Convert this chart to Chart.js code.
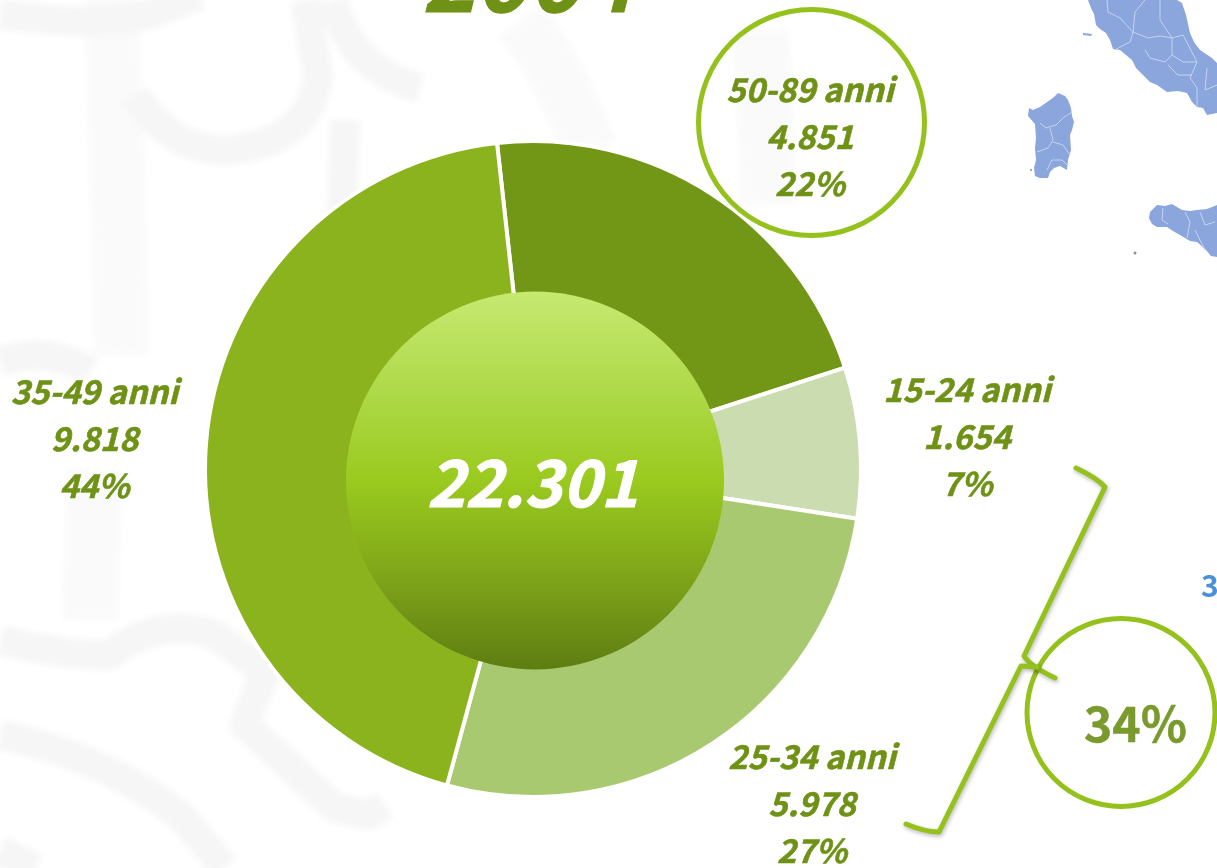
<!DOCTYPE html>
<html lang="it"><head><meta charset="utf-8">
<style>
html,body{margin:0;padding:0;width:1217px;height:868px;overflow:hidden;background:#fff}
#wrap{position:relative;width:1217px;height:868px;overflow:hidden;font-family:"Noto Sans CJK SC","Noto Sans",sans-serif}
#bg,#c{position:absolute;left:0;top:0}
.lab{position:absolute;transform:translateX(-50%);text-align:center;white-space:nowrap;color:#6f9216;font-weight:700;font-style:italic;-webkit-text-stroke:.6px #6f9216}
.lab div{height:47px;line-height:47px;font-size:32.6px}
.t{position:absolute;white-space:nowrap;line-height:1}
</style>
<script src="https://cdn.jsdelivr.net/npm/chart.js@4"></script>
</head><body><div id="wrap">
<svg id="bg" width="1217" height="868" viewBox="0 0 1217 868" fill="none">
<defs><filter id="soft" x="-5%" y="-5%" width="110%" height="110%"><feGaussianBlur stdDeviation="3"/></filter>
<filter id="mapsoft"><feGaussianBlur stdDeviation="0.5"/></filter></defs>
<g stroke-linecap="butt" stroke-linejoin="round" filter="url(#soft)">
<g stroke="#fafafb" stroke-width="55">
<path d="M112 0 L122 355"/>
<path d="M95 470 L90 620"/>
<path d="M762 30 L768 205"/>
<path d="M520 20 Q560 70 590 150"/>
</g>
<g stroke="#f6f6f7" stroke-width="30">
<path d="M0 14 Q90 28 150 14 L200 -5"/>
<path d="M135 95 Q170 150 225 150 Q310 145 318 75 L305 0"/>
<path d="M333 0 Q350 70 420 88"/>
<path d="M345 120 L342 215"/>
<path d="M0 362 Q50 345 90 372"/>
<path d="M0 640 Q60 655 110 655 Q160 615 215 635 L265 672 L245 725 L335 808 L370 815 L385 805"/>
<path d="M0 735 Q100 755 180 815 L225 868"/>
<path d="M0 850 L35 868"/>
</g>
</g>
<g filter="url(#mapsoft)">
<g fill="#8aa6dc">
<path d="M1088 0 L1091 8 L1094 14 L1096 25 L1100 29 L1106 33 L1110 40 L1113 49 L1120 50 L1132 60 L1136 68 L1143 75 L1150 82 L1157 85 L1167 92 L1178 91 L1187 93 L1192 102 L1197 107 L1203 108 L1207 115 L1217 113 L1217 63 L1212 58 L1200 50 L1194 42 L1190 33 L1186 15 L1182 3 L1177 0 Z"/>
<path d="M1058 93 L1065 96 L1068 100 L1071 108 L1072 116 L1074 122 L1072 130 L1070 135 L1071 150 L1068 160 L1067 170 L1060 166 L1054 168 L1050 172 L1048 178 L1040 178 L1035 176 L1034 168 L1036 160 L1035 148 L1036 138 L1035 124 L1028 116 L1029 108 L1033 110 L1040 107 L1050 100 L1054 97 Z"/>
<path d="M1150 212 L1157 205 L1165 206 L1172 204 L1182 210 L1190 211 L1197 210 L1207 209 L1217 205 L1217 257 L1211 256 L1206 250 L1197 242 L1190 241 L1180 235 L1173 231 L1167 227 L1157 227 L1152 224 L1149 218 Z"/>
<path d="M1083 33 L1092 34 L1091 36 L1083 35 Z"/>
</g>
<g fill="none" stroke="#c5d3ef" stroke-width="1">
<path d="M1107 0 L1108 12 L1120 18 L1133 32 L1130 42 L1122 46 L1115 50"/>
<path d="M1133 32 L1148 38 L1160 36 L1172 38 L1183 35 L1197 62"/>
<path d="M1145 0 L1135 12 L1133 32 M1160 0 L1160 20 L1172 38 M1172 38 L1172 55 L1183 62 L1197 62 L1190 78 L1197 88 L1197 107"/>
<path d="M1145 50 L1150 58 L1165 62 L1172 55 M1168 65 L1178 75 L1192 75 M1207 68 L1205 90 L1217 85"/>
<path d="M1040 123 L1046 128 L1056 125 L1063 118 L1072 112 M1050 128 L1053 140 L1048 148 L1037 152 M1053 142 L1063 145 L1070 155 M1047 170 L1052 160 L1062 160 L1067 165"/>
<path d="M1163 208 L1162 220 L1168 224 M1185 212 L1190 222 L1187 238 M1200 212 L1205 225 L1215 222 M1195 230 L1205 250"/>
</g>
<g fill="#8f8f8f"><circle cx="1135" cy="253" r="1.5"/><circle cx="1031" cy="170" r="1"/></g>
</g>
</svg>
<canvas id="c" width="1217" height="868"></canvas>
<div id="labels"></div>
</div>
<script>
const years = ["2004"];
const categories = ["50-89 anni","15-24 anni","25-34 anni","35-49 anni"];
const values = [4851,1654,5978,9818];
const valueLabels = ["4.851","1.654","5.978","9.818"];
const percentLabels = ["22%","7%","27%","44%"];
const colors = ["#729615","#cbdcb0","#a9c970","#8ab31d"];
const totalLabel = "22.301";
const groupLabel = "34%";
const cutLabel = "3";
const labelCentres = [[810,66],[967,366],[812,733],[94.5,368]];

const overlay = {
  id:"overlay",
  afterDraw(chart){
    const g = chart.ctx;
    g.save();
    const cx=535, cy=480.5, r=189;
    const grad=g.createLinearGradient(0,cy-r,0,cy+r);
    grad.addColorStop(0,"#c6e971");
    grad.addColorStop(0.25,"#b0da4b");
    grad.addColorStop(0.5,"#9aca1e");
    grad.addColorStop(0.75,"#7fa519");
    grad.addColorStop(1,"#5e7d12");
    g.fillStyle=grad;
    g.beginPath();g.arc(cx,cy,r,0,Math.PI*2);g.fill();
    g.strokeStyle="#94c11c";
    g.lineWidth=5;
    g.beginPath();g.arc(811.5,122.5,113,0,Math.PI*2);g.stroke();
    g.beginPath();g.arc(1121,712.5,94,0,Math.PI*2);g.stroke();
    g.lineCap="round";g.lineJoin="round";
    g.shadowColor="rgba(0,0,0,.28)";g.shadowBlur=4;g.shadowOffsetX=1;g.shadowOffsetY=2;
    g.beginPath();
    g.moveTo(1076,468);g.quadraticCurveTo(1097,478,1105,487);
    g.lineTo(1024,656);g.quadraticCurveTo(1030,666,1055,678);
    g.stroke();
    g.beginPath();
    g.moveTo(1037,667);g.lineTo(1021,666);
    g.lineTo(939,832);g.quadraticCurveTo(925,832,906,824);
    g.stroke();
    g.restore();
  }
};

new Chart(document.getElementById("c"),{
  type:"doughnut",
  data:{labels:categories,datasets:[{data:values,backgroundColor:colors,borderColor:"#ffffff",borderWidth:4}]},
  plugins:[overlay],
  options:{
    responsive:false,animation:false,rotation:-6.3,cutout:"52%",
    layout:{padding:{left:203,right:354,top:139,bottom:69}},
    plugins:{legend:{display:false},tooltip:{enabled:false}}
  }
});

const host=document.getElementById("labels");
categories.forEach((c,i)=>{
  const d=document.createElement("div");
  d.className="lab";
  d.style.left=labelCentres[i][0]+"px";
  d.style.top=(labelCentres[i][1]-2)+"px";
  [c,valueLabels[i],percentLabels[i]].forEach(s=>{const l=document.createElement("div");l.textContent=s;d.appendChild(l);});
  host.appendChild(d);
});
function text(s,x,y,size,color,extra){
  const t=document.createElement("div");t.className="t";t.textContent=s;
  t.style.cssText+=`left:${x}px;top:${y}px;font-size:${size}px;color:${color};${extra||""}`;
  host.appendChild(t);return t;
}
text(years[0],422,-72,90,"#6f9216","font-weight:700;font-style:italic;-webkit-text-stroke:1px #6f9216");
text(totalLabel,427,447,64.5,"#ffffff","font-weight:700;font-style:italic;-webkit-text-stroke:1px #fff");
text(groupLabel,1084,697,48,"#7a9a2e","font-weight:700;-webkit-text-stroke:.5px #7a9a2e");
text(cutLabel,1201,569,30,"#4a90d9","font-weight:700");
</script>
</body></html>
